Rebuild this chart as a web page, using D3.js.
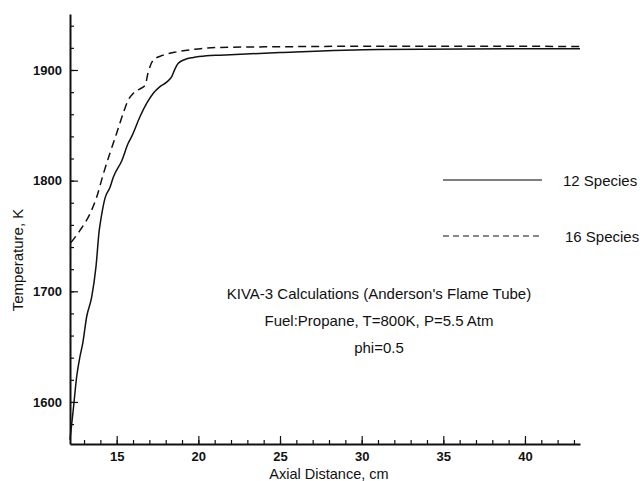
<!DOCTYPE html>
<html>
<head>
<meta charset="utf-8">
<script src="https://cdn.jsdelivr.net/npm/d3@7"></script>
<style>
  body { margin: 0; background: #fff; }
  svg { font-family: "Liberation Sans", Arial, Helvetica, sans-serif; }
</style>
</head>
<body>
<svg id="chart" width="640" height="481"></svg>
<script>
// values
var dist12 = [12.14, 12.34, 12.55, 12.75, 12.92, 13.16, 13.47, 13.73, 13.93, 14.02, 14.28, 14.59, 14.79, 15.31, 15.71, 15.92, 16.43, 16.84, 17.24, 17.65, 18.06, 18.37, 18.57, 18.77, 19.18, 19.69, 20.51, 21.33, 25.0, 31.1, 43.37];
var temp12 = [1566, 1593, 1623, 1641, 1653, 1677, 1695, 1722, 1755, 1764, 1784, 1794, 1803, 1818, 1834, 1840, 1858, 1870, 1879, 1885, 1889, 1894, 1901, 1906, 1909.5, 1911.3, 1912.8, 1913.4, 1915.8, 1918.6, 1919.3];
var dist16 = [12.2, 12.75, 13.36, 13.77, 14.18, 14.59, 15.0, 15.40, 15.71, 16.02, 16.43, 16.73, 16.93, 17.24, 17.85, 18.67, 19.69, 21.33, 25.0, 31.1, 43.37];
var temp16 = [1744, 1755, 1770, 1785, 1806, 1825, 1843, 1861, 1873, 1879, 1883, 1886, 1898, 1909, 1913.4, 1916.4, 1918.6, 1920.4, 1921, 1921.5, 1921.3];

var xTicks = [15, 20, 25, 30, 35, 40];
var yTicks = [1600, 1700, 1800, 1900];
var seriesNames = ['12 Species', '16 Species'];
var notes = ["KIVA-3 Calculations (Anderson's Flame Tube)", 'Fuel:Propane, T=800K, P=5.5 Atm', 'phi=0.5'];

var svg = d3.select('#chart');
var plotL = 70, plotR = 580, plotT = 14, plotB = 444;

var x = d3.scaleLinear().domain([12.14, 43.37]).range([plotL, plotR]);
var y = d3.scaleLinear().domain([1562, 1950.6]).range([plotB, plotT]);

// minor ticks first, then majors + domain
svg.append('g')
    .attr('transform', 'translate(0,' + plotB + ')')
    .call(d3.axisBottom(x).tickValues(d3.range(13, 44, 1)).tickSize(-4).tickFormat(''))
    .call(function(g){ g.select('.domain').remove(); });
svg.append('g')
    .attr('transform', 'translate(' + plotL + ',0)')
    .call(d3.axisLeft(y).tickValues(d3.range(1580, 1950, 20)).tickSize(-4).tickFormat(''))
    .call(function(g){ g.select('.domain').remove(); });

svg.append('g')
    .attr('transform', 'translate(0,' + plotB + ')')
    .call(d3.axisBottom(x).tickValues(xTicks).tickSizeInner(-8).tickSizeOuter(0).tickPadding(8));
svg.append('g')
    .attr('transform', 'translate(' + plotL + ',0)')
    .call(d3.axisLeft(y).tickValues(yTicks).tickFormat(d3.format('d')).tickSizeInner(-8).tickSizeOuter(0).tickPadding(8));

svg.selectAll('.tick line').attr('stroke', '#111').attr('stroke-width', 1.2);
svg.selectAll('.domain').attr('stroke', '#111').attr('stroke-width', 2);
svg.selectAll('.tick text')
    .attr('fill', '#111')
    .style('font-size', '13px')
    .style('font-weight', 'bold')
    .style('font-family', '"Liberation Sans", Arial, sans-serif');

// axis titles
svg.append('text')
    .attr('x', 329).attr('y', 479)
    .attr('text-anchor', 'middle')
    .style('font-size', '14.5px')
    .attr('fill', '#111')
    .text('Axial Distance, cm');
svg.append('text')
    .attr('transform', 'translate(23,260) rotate(-90)')
    .attr('text-anchor', 'middle')
    .style('font-size', '15px')
    .attr('fill', '#111')
    .text('Temperature, K');

var line = d3.line()
    .x(function(d) { return x(d[0]); })
    .y(function(d) { return y(d[1]); })
    .curve(d3.curveMonotoneX);

svg.append('path')
    .datum(d3.zip(dist12, temp12))
    .attr('d', line)
    .attr('fill', 'none')
    .attr('stroke', '#111')
    .attr('stroke-width', 1.5);

svg.append('path')
    .datum(d3.zip(dist16, temp16))
    .attr('d', line)
    .attr('fill', 'none')
    .attr('stroke', '#111')
    .attr('stroke-width', 1.5)
    .attr('stroke-dasharray', '8,5');

// legend
var legend = svg.selectAll('.legend')
    .data(seriesNames)
    .enter().append('g')
    .attr('class', 'legend')
    .attr('transform', function(d, i) { return 'translate(443,' + (180 + i * 56) + ')'; });
legend.append('line')
    .attr('x1', 0).attr('x2', 99)
    .attr('stroke', function(d, i) { return i ? '#111' : '#555'; })
    .attr('stroke-width', function(d, i) { return i ? 1.2 : 1.5; })
    .attr('stroke-dasharray', function(d, i) { return i ? '6,4' : null; });
legend.append('text')
    .attr('x', function(d, i) { return 120 + i * 2; })
    .attr('y', 6)
    .style('font-size', '15px')
    .attr('fill', '#111')
    .text(function(d) { return d; });

// annotation block
svg.selectAll('.note')
    .data(notes)
    .enter().append('text')
    .attr('class', 'note')
    .attr('x', 379)
    .attr('y', function(d, i) { return 299 + i * 27; })
    .attr('text-anchor', 'middle')
    .style('font-size', '15px')
    .attr('fill', '#111')
    .text(function(d) { return d; });
</script>
</body>
</html>
